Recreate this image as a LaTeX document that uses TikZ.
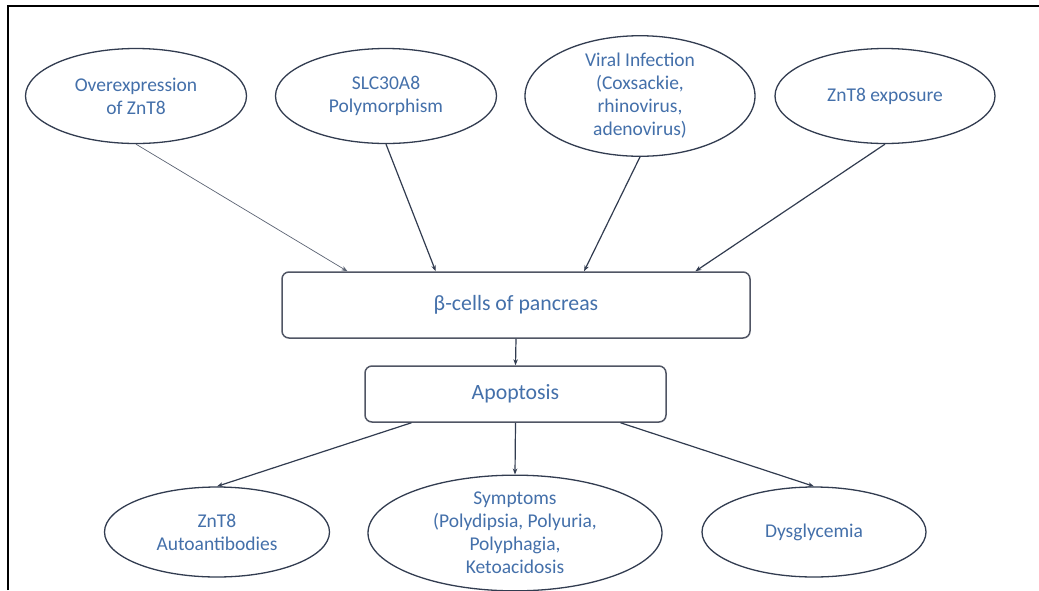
\documentclass[tikz,border=0pt]{standalone}
\usepackage{fontspec}
\setmainfont{Carlito}
\usetikzlibrary{shapes.geometric,arrows.meta,calc}
\definecolor{txtblue}{RGB}{68,112,170}
\definecolor{edgecol}{RGB}{50,60,80}
\definecolor{boxcol}{RGB}{80,85,100}
\tikzset{
  cause/.style={ellipse,draw=edgecol,line width=1.3pt,inner sep=0pt,text=txtblue,
    align=center,font=\fontsize{19.5}{23}\selectfont},
  procbox/.style={rectangle,rounded corners=7pt,draw=boxcol,line width=1.5pt,inner sep=0pt,
    text=txtblue,font=\fontsize{21.8}{25}\selectfont},
  conn/.style={draw=edgecol,line width=1.2pt,-{Stealth[length=6pt,width=4.5pt]}},
  thinconn/.style={draw=edgecol!80,line width=0.7pt,-{Stealth[length=6pt,width=4.5pt]}}
}
\begin{document}
\begin{tikzpicture}[x=1pt,y=-1pt]
\useasboundingbox (0,0) rectangle (1039,590);
\fill[white] (0,0) rectangle (1039,590);
\draw[black,line width=2pt] (7.5,590) -- (7.5,6) -- (1039,6);

\node[cause,minimum width=221pt,minimum height=95pt] (e1) at (136,96) {Overexpression\\of ZnT8};
\node[cause,minimum width=221pt,minimum height=95pt] (e2) at (386,96) {SLC30A8\\Polymorphism};
\node[cause,minimum width=230pt,minimum height=116pt] (e3) at (640,96) {Viral Infection\\(Coxsackie,\\rhinovirus,\\adenovirus)};
\node[cause,minimum width=220pt,minimum height=95pt] (e4) at (885,96) {ZnT8 exposure};

\node[procbox,minimum width=468pt,minimum height=66pt] (beta) at (516,305) {β-cells of pancreas};
\node[procbox,minimum width=301pt,minimum height=56pt] (apop) at (515.5,394) {Apoptosis};

\node[cause,minimum width=225pt,minimum height=90pt] (b1) at (217,532) {ZnT8\\Autoantibodies};
\node[cause,minimum width=294pt,minimum height=110pt] (b2) at (515,533) {Symptoms\\(Polydipsia, Polyuria,\\Polyphagia,\\Ketoacidosis};
\node[cause,minimum width=224pt,minimum height=90pt] (b3) at (814,532) {Dysglycemia};

\draw[thinconn] (e1.south) -- ($(beta.north west)!0.141!(beta.north east)$);
\draw[conn] (e2.south) -- ($(beta.north west)!0.329!(beta.north east)$);
\draw[conn] (e3.south) -- ($(beta.north west)!0.645!(beta.north east)$);
\draw[conn] (e4.south) -- ($(beta.north west)!0.882!(beta.north east)$);

\draw[conn] (beta.south) -- (apop.north);

\draw[conn] ($(apop.south west)!0.156!(apop.south east)$) -- (b1.north);
\draw[conn] (apop.south) -- (b2.north);
\draw[conn] ($(apop.south west)!0.847!(apop.south east)$) -- (b3.north);
\end{tikzpicture}
\end{document}
